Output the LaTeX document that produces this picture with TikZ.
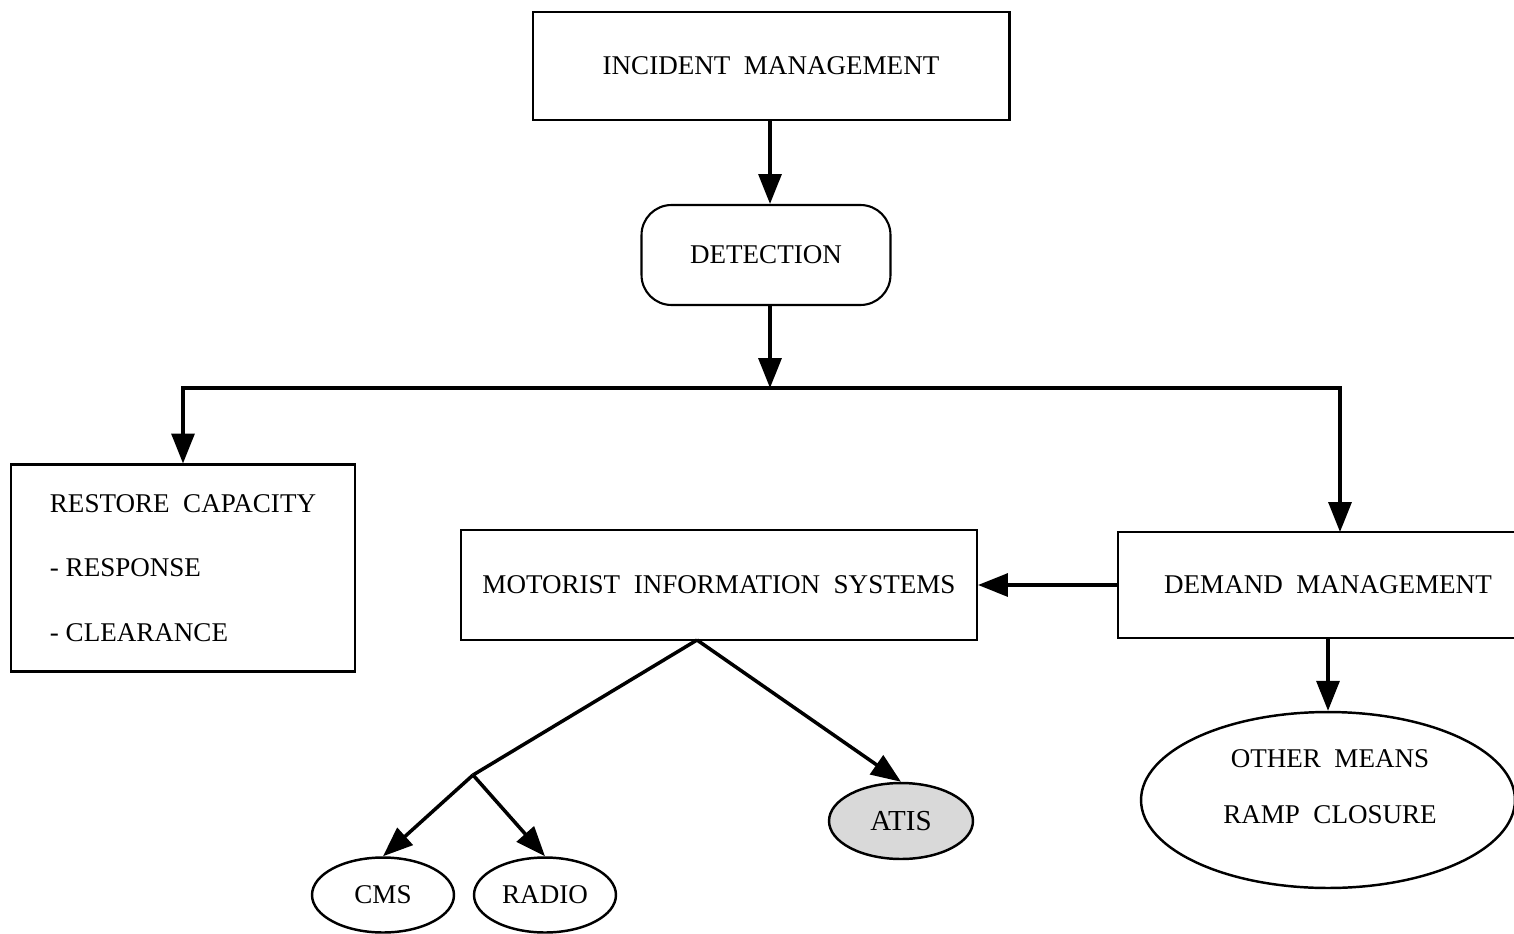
\documentclass[tikz,border=0pt]{standalone}
\usepackage{fontspec}
\setmainfont{Liberation Serif}
\usetikzlibrary{arrows.meta,shapes.geometric}
\begin{document}
\begin{tikzpicture}[x=0.02cm,y=-0.02cm,
  every node/.style={font=\fontsize{15.4}{18}\selectfont, inner sep=0pt},
  box/.style={draw, line width=1.2pt},
  oval/.style={draw, ellipse, line width=1.4pt},
  conn/.style={line width=2pt},
  arr/.style={line width=2pt, -{Triangle[length=17pt,width=13pt]}}]
\useasboundingbox (0,0) rectangle (1514,933);
\clip (0,0) rectangle (1514,933);
\node[box, minimum width=9.54cm, minimum height=2.16cm] (inc) at (771,66) {INCIDENT~~MANAGEMENT};
\node[box, rounded corners=0.6cm, minimum width=4.98cm, minimum height=2.0cm] (det) at (766,255) {DETECTION};
\node[box, minimum width=6.88cm, minimum height=4.14cm, align=left,
      font=\fontsize{15.4}{36.9}\selectfont] (rest) at (183,568)
      {RESTORE~~CAPACITY\\- RESPONSE\\- CLEARANCE};
\node[box, minimum width=10.32cm, minimum height=2.2cm] (mot) at (719,585) {MOTORIST~~INFORMATION~~SYSTEMS};
\node[box, minimum width=8.4cm, minimum height=2.12cm] (dem) at (1328,585) {DEMAND~~MANAGEMENT};
\node[oval, minimum width=7.48cm, minimum height=3.52cm] (oth) at (1328,800) {};
\node[align=center, font=\fontsize{15.4}{32}\selectfont] (othtext) at (1330,787) {OTHER~~MEANS\\RAMP~~CLOSURE};
\node[oval, minimum width=2.84cm, minimum height=1.5cm] (cms) at (383,895) {CMS};
\node[oval, minimum width=2.84cm, minimum height=1.5cm] (radio) at (545,895) {RADIO};
\node[oval, fill=gray!30, minimum width=2.88cm, minimum height=1.52cm, font=\fontsize{16.5}{19}\selectfont] (atis) at (901,821) {ATIS};

\coordinate (j1) at (770,388);
\coordinate (dtop) at (1340,532);
\coordinate (m1) at (697,640);
\coordinate (j2) at (473,775);

\draw[arr] (inc.south -| j1) -- (det.north -| j1);
\draw[arr] (det.south -| j1) -- (j1);
\draw[arr] (j1) -| (rest.north);
\draw[arr] (j1) -| (dtop);
\draw[arr] (dem.west) -- (mot.east);
\draw[arr] (dem.south) -- (oth.north);
\draw[conn] (m1) -- (j2);
\draw[arr] (m1) -- (atis.north);
\draw[arr] (j2) -- (cms.north);
\draw[arr] (j2) -- (radio.north);
\end{tikzpicture}
\end{document}
